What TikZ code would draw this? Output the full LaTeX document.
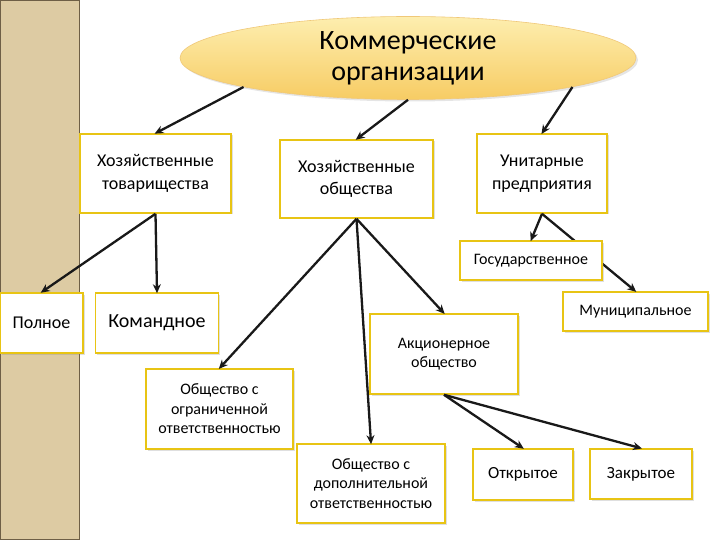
\documentclass[tikz,border=0pt]{standalone}
\usepackage{fontspec}
\setmainfont{Carlito}
\usetikzlibrary{shapes.geometric,arrows.meta,shadows}
\definecolor{beige}{RGB}{221,203,163}
\definecolor{stripline}{RGB}{110,95,70}
\definecolor{boxline}{RGB}{232,196,20}
\definecolor{elltop}{RGB}{253,238,175}
\definecolor{ellbot}{RGB}{247,204,100}
\definecolor{ellline}{RGB}{240,200,120}
\definecolor{arrowcol}{RGB}{25,25,25}
\tikzset{
  box/.style={draw=boxline, line width=1.6pt, fill=white, inner sep=1pt, align=center,
    font=\fontsize{18}{22.5}\selectfont,
    drop shadow={opacity=0.25, shadow xshift=1.5pt, shadow yshift=-1.5pt}},
  smallbox/.style={box, font=\fontsize{16}{19.5}\selectfont},
  arr/.style={draw=arrowcol, line width=2.3pt, -{Stealth[length=9pt,width=8pt]}, shorten >=-1pt}
}
\begin{document}
\begin{tikzpicture}[x=1pt,y=-1pt]
\useasboundingbox (0,0) rectangle (720,540);
\fill[white] (0,0) rectangle (720,540);
% left strip
\filldraw[fill=beige, draw=stripline, line width=1pt] (0.5,0.5) rectangle (79,539.5);

% ellipse
\node[ellipse, minimum width=456pt, minimum height=83pt, inner sep=0pt, top color=elltop, bottom color=ellbot,
  draw=ellline, line width=0.6pt, align=center, font=\fontsize{28}{31}\selectfont,
  drop shadow={opacity=0.2, shadow xshift=2pt, shadow yshift=-2pt}] (ell) at (408,58) {Коммерческие\\организации};

% boxes
\node[box, minimum width=151pt, minimum height=79pt] (ht) at (155.5,173.5) {Хозяйственные\\товарищества};
\node[box, minimum width=153pt, minimum height=78pt] (ho) at (356.5,179) {Хозяйственные\\общества};
\node[box, minimum width=130pt, minimum height=79pt] (up) at (542,173.5) {Унитарные\\предприятия};

% arrows
\draw[arr] (ell.190) -- (ht.north);
\draw[arr] (ell.south) -- (ho.north);
\draw[arr] (ell.-10) -- (up.north);

\node[box, minimum width=83pt, minimum height=60pt] (pol) at (41.5,323) {Полное};
\node[box, minimum width=123pt, minimum height=60pt, font=\fontsize{20}{24}\selectfont] (kom) at (157,323) {Командное};
\node[smallbox, minimum width=145pt, minimum height=39pt] (mun) at (635.5,311.5) {Муниципальное};
\node[smallbox, minimum width=148pt, minimum height=80pt] (ao) at (444,354) {Акционерное\\общество};
\node[smallbox, minimum width=147pt, minimum height=80pt] (ooo) at (219.5,409) {Общество с\\ограниченной\\ответственностью};
\node[smallbox, minimum width=148pt, minimum height=79pt] (odo) at (371,483.5) {Общество с\\дополнительной\\ответственностью};
\node[box, minimum width=100pt, minimum height=51pt, font=\fontsize{17}{20}\selectfont] (otk) at (523,474.5) {Открытое};
\node[box, minimum width=102pt, minimum height=50pt, font=\fontsize{17}{20}\selectfont] (zak) at (641,474) {Закрытое};

\draw[arr] (ht.south) -- (pol.north);
\draw[arr] (ht.south) -- (kom.north);
\draw[arr] (ho.south) -- (ooo.north);
\draw[arr] (ho.south) -- (odo.north);
\draw[arr] (ho.south) -- (ao.north);
\draw[arr] (up.south) -- (mun.north);
\draw[arr] (ao.south) -- (otk.north);
\draw[arr] (ao.south) -- (zak.north);

\node[smallbox, minimum width=142pt, minimum height=39pt] (gos) at (531,260.5) {Государственное};
\draw[arr] (up.south) -- (gos.north);
\end{tikzpicture}
\end{document}
